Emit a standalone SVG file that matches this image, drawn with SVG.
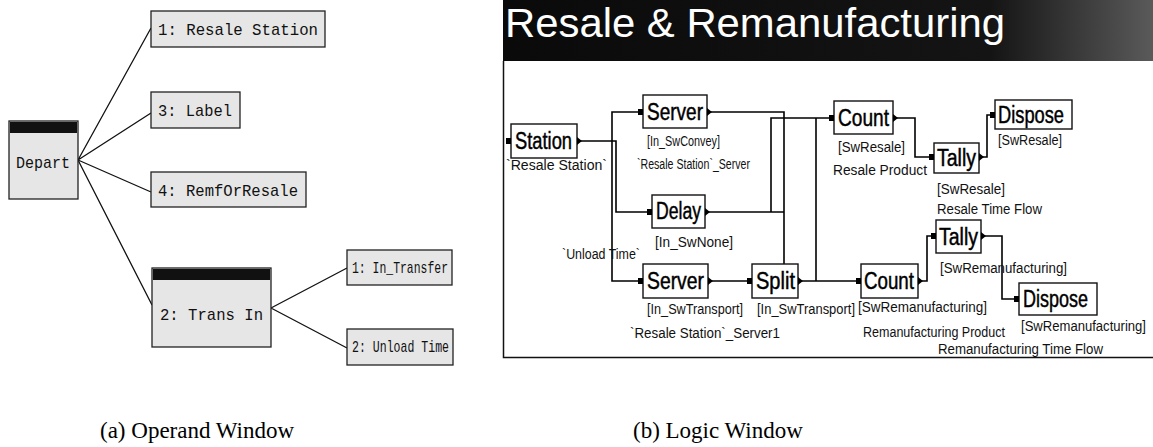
<svg xmlns="http://www.w3.org/2000/svg" width="1153" height="447" viewBox="0 0 1153 447">
<defs>
<style>
.obox{fill:#e6e6e6;stroke:#222;stroke-width:1.3}
.bar{fill:#111}
.mono{font-family:"Liberation Mono","DejaVu Sans Mono",monospace;font-size:17px;fill:#111}
.tree{fill:none;stroke:#111;stroke-width:1.3}
.lbox{fill:#fff;stroke:#111;stroke-width:1.4}
.ntxt{font-family:"Liberation Sans",Arial,sans-serif;font-size:23px;fill:#000;stroke:#000;stroke-width:0.45}
.lab{font-family:"Liberation Sans",Arial,sans-serif;font-size:14px;fill:#111}
.conn{fill:none;stroke:#000;stroke-width:1.6}
.cap{font-family:"Liberation Serif","Times New Roman",serif;font-size:23px;fill:#000}
</style>
<linearGradient id="tg" x1="0" y1="0" x2="1" y2="0">
<stop offset="0" stop-color="#0a0a0a"/>
<stop offset="0.75" stop-color="#141414"/>
<stop offset="1" stop-color="#5a5a5a"/>
</linearGradient>
</defs>
<rect width="1153" height="447" fill="#fff"/>

<!-- (a) Operand window -->
<g id="operand-connectors">
<path class="tree" d="M78 160 L151 28 M78 160 L151 113 M78 160 L151 192 M78 160 L152 305"/>
<path class="tree" d="M271 308 L347 268 M271 308 L347 348"/>
</g>
<g id="op-depart">
<rect class="obox" x="9" y="121" width="69" height="78"/>
<rect class="bar" x="10" y="122" width="67" height="11"/>
<text class="mono" x="16" y="168" textLength="54" lengthAdjust="spacingAndGlyphs">Depart</text>
</g>
<g id="op-resale-station">
<rect class="obox" x="151" y="11" width="174" height="36"/>
<text class="mono" x="158" y="35" textLength="160" lengthAdjust="spacingAndGlyphs">1: Resale Station</text>
</g>
<g id="op-label">
<rect class="obox" x="151" y="92" width="89" height="36"/>
<text class="mono" x="158" y="116" textLength="74" lengthAdjust="spacingAndGlyphs">3: Label</text>
</g>
<g id="op-remforresale">
<rect class="obox" x="151" y="172" width="155" height="35"/>
<text class="mono" x="158" y="196" textLength="140" lengthAdjust="spacingAndGlyphs">4: RemfOrResale</text>
</g>
<g id="op-trans-in">
<rect class="obox" x="152" y="268" width="119" height="79"/>
<rect class="bar" x="153" y="269" width="117" height="11"/>
<text class="mono" x="160" y="320" textLength="103" lengthAdjust="spacingAndGlyphs">2: Trans In</text>
</g>
<g id="op-in-transfer">
<rect class="obox" x="347" y="250" width="105" height="35"/>
<text class="mono" x="352" y="273" textLength="96" lengthAdjust="spacingAndGlyphs">1: In_Transfer</text>
</g>
<g id="op-unload-time">
<rect class="obox" x="347" y="329" width="106" height="36"/>
<text class="mono" x="352" y="352" textLength="97" lengthAdjust="spacingAndGlyphs">2: Unload Time</text>
</g>
<text class="cap" x="100" y="438">(a) Operand Window</text>

<!-- (b) Logic window -->
<rect x="503" y="0" width="650" height="61" fill="url(#tg)"/>
<text x="505" y="37" font-family="'Liberation Sans',Arial,sans-serif" font-size="41" fill="#fff" textLength="500" lengthAdjust="spacingAndGlyphs">Resale &amp; Remanufacturing</text>
<path d="M503.5 61 V357.5 H1153" fill="none" stroke="#111" stroke-width="1.5"/>

<g id="connectors">
<path class="conn" d="M577 141 H616 V212 H647"/>
<path class="conn" d="M638 112 H612 V281 H638"/>
<path class="conn" d="M707 112 H784 V281"/>
<path class="conn" d="M705 212 H784"/>
<path class="conn" d="M771 212 V118 H829"/>
<path class="conn" d="M708 281 H747"/>
<path class="conn" d="M798 281 H856"/>
<path class="conn" d="M816 281 V118"/>
<path class="conn" d="M893 118 H915 V157 H929"/>
<path class="conn" d="M979 157 H987 V115 H990"/>
<path class="conn" d="M918 281 H927 V236 H931"/>
<path class="conn" d="M981 236 H1002 V299 H1014"/>
</g>

<g id="n-station">
<rect class="lbox" x="511" y="124" width="66" height="34"/>
<rect x="506" y="138" width="5" height="6"/>
<path d="M577 137 L582 141 L577 145 Z"/>
<text class="ntxt" x="515" y="149" textLength="57" lengthAdjust="spacingAndGlyphs">Station</text>
<text class="lab" x="506" y="170" textLength="101" lengthAdjust="spacingAndGlyphs">`Resale Station`</text>
</g>
<g id="n-server1">
<rect class="lbox" x="643" y="95" width="64" height="33"/>
<rect x="638" y="109" width="5" height="6"/>
<path d="M707 108 L712 112 L707 116 Z"/>
<text class="ntxt" x="647" y="120" textLength="56" lengthAdjust="spacingAndGlyphs">Server</text>
<text class="lab" x="647" y="146" textLength="73" lengthAdjust="spacingAndGlyphs">[In_SwConvey]</text>
<text class="lab" x="637" y="169" textLength="113" lengthAdjust="spacingAndGlyphs">`Resale Station`_Server</text>
</g>
<g id="n-delay">
<rect class="lbox" x="652" y="195" width="53" height="33"/>
<rect x="647" y="209" width="5" height="6"/>
<path d="M705 208 L710 212 L705 216 Z"/>
<text class="ntxt" x="656" y="219" textLength="45" lengthAdjust="spacingAndGlyphs">Delay</text>
<text class="lab" x="655" y="247" textLength="78" lengthAdjust="spacingAndGlyphs">[In_SwNone]</text>
</g>
<text class="lab" x="562" y="259" textLength="78" lengthAdjust="spacingAndGlyphs">`Unload Time`</text>
<g id="n-server2">
<rect class="lbox" x="643" y="264" width="65" height="34"/>
<rect x="638" y="278" width="5" height="6"/>
<path d="M708 277 L713 281 L708 285 Z"/>
<text class="ntxt" x="647" y="289" textLength="57" lengthAdjust="spacingAndGlyphs">Server</text>
<text class="lab" x="647" y="314" textLength="96" lengthAdjust="spacingAndGlyphs">[In_SwTransport]</text>
<text class="lab" x="630" y="338" textLength="150" lengthAdjust="spacingAndGlyphs">`Resale Station`_Server1</text>
</g>
<g id="n-split">
<rect class="lbox" x="752" y="264" width="46" height="34"/>
<rect x="747" y="278" width="5" height="6"/>
<path d="M798 277 L803 281 L798 285 Z"/>
<text class="ntxt" x="756" y="289" textLength="39" lengthAdjust="spacingAndGlyphs">Split</text>
<text class="lab" x="757" y="314" textLength="98" lengthAdjust="spacingAndGlyphs">[In_SwTransport]</text>
</g>
<g id="n-count1">
<rect class="lbox" x="834" y="101" width="59" height="33"/>
<rect x="829" y="115" width="5" height="6"/>
<path d="M893 114 L898 118 L893 122 Z"/>
<text class="ntxt" x="838" y="126" textLength="51" lengthAdjust="spacingAndGlyphs">Count</text>
<text class="lab" x="838" y="152" textLength="67" lengthAdjust="spacingAndGlyphs">[SwResale]</text>
<text class="lab" x="833" y="175" textLength="94" lengthAdjust="spacingAndGlyphs">Resale Product</text>
</g>
<g id="n-tally1">
<rect class="lbox" x="934" y="143" width="45" height="30"/>
<rect x="929" y="154" width="5" height="6"/>
<path d="M979 153 L984 157 L979 161 Z"/>
<text class="ntxt" x="937" y="166" textLength="39" lengthAdjust="spacingAndGlyphs">Tally</text>
<text class="lab" x="937" y="194" textLength="68" lengthAdjust="spacingAndGlyphs">[SwResale]</text>
<text class="lab" x="937" y="214" textLength="105" lengthAdjust="spacingAndGlyphs">Resale Time Flow</text>
</g>
<g id="n-dispose1">
<rect class="lbox" x="995" y="100" width="77" height="29"/>
<rect x="990" y="112" width="5" height="6"/>
<text class="ntxt" x="998" y="123" textLength="66" lengthAdjust="spacingAndGlyphs">Dispose</text>
<text class="lab" x="998" y="145" textLength="64" lengthAdjust="spacingAndGlyphs">[SwResale]</text>
</g>
<g id="n-count2">
<rect class="lbox" x="861" y="264" width="57" height="34"/>
<rect x="856" y="278" width="5" height="6"/>
<path d="M918 277 L923 281 L918 285 Z"/>
<text class="ntxt" x="864" y="289" textLength="50" lengthAdjust="spacingAndGlyphs">Count</text>
<text class="lab" x="858" y="312" textLength="129" lengthAdjust="spacingAndGlyphs">[SwRemanufacturing]</text>
<text class="lab" x="863" y="337" textLength="142" lengthAdjust="spacingAndGlyphs">Remanufacturing Product</text>
</g>
<g id="n-tally2">
<rect class="lbox" x="936" y="220" width="45" height="33"/>
<rect x="931" y="233" width="5" height="6"/>
<path d="M981 232 L986 236 L981 240 Z"/>
<text class="ntxt" x="939" y="245" textLength="39" lengthAdjust="spacingAndGlyphs">Tally</text>
<text class="lab" x="940" y="273" textLength="127" lengthAdjust="spacingAndGlyphs">[SwRemanufacturing]</text>
</g>
<g id="n-dispose2">
<rect class="lbox" x="1019" y="283" width="78" height="32"/>
<rect x="1014" y="296" width="5" height="6"/>
<text class="ntxt" x="1023" y="307" textLength="65" lengthAdjust="spacingAndGlyphs">Dispose</text>
<text class="lab" x="1021" y="331" textLength="125" lengthAdjust="spacingAndGlyphs">[SwRemanufacturing]</text>
<text class="lab" x="938" y="354" textLength="165" lengthAdjust="spacingAndGlyphs">Remanufacturing Time Flow</text>
</g>
<text class="cap" x="633" y="438">(b) Logic Window</text>
</svg>
